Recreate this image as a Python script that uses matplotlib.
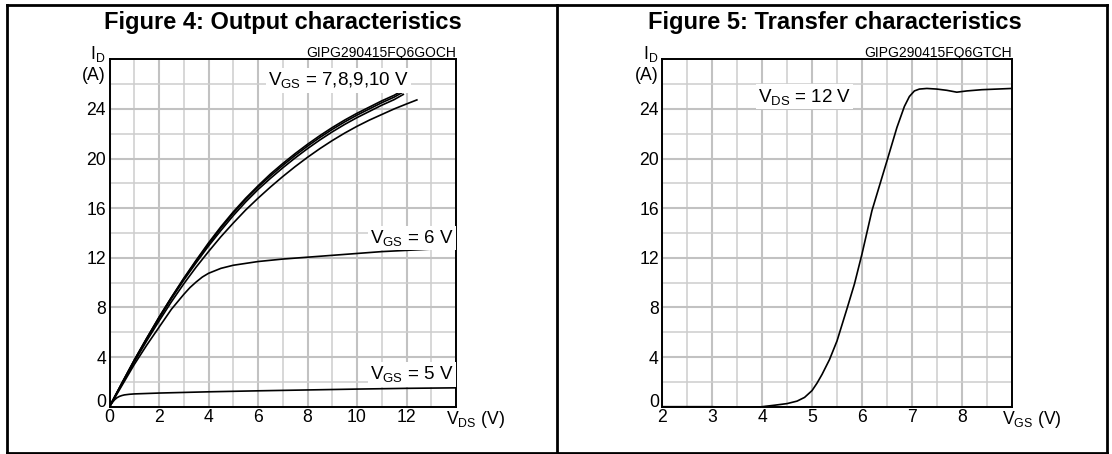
import matplotlib
matplotlib.use('Agg')
import matplotlib.pyplot as plt
from matplotlib.ticker import MultipleLocator, FixedLocator
from matplotlib.lines import Line2D

plt.rcParams['font.family'] = ['Liberation Sans', 'DejaVu Sans']
plt.rcParams['mathtext.fontset'] = 'custom'
plt.rcParams['mathtext.rm'] = 'Liberation Sans'
plt.rcParams['mathtext.it'] = 'Liberation Sans:italic'
plt.rcParams['mathtext.bf'] = 'Liberation Sans:bold'

# ---------------- data: Figure 4 (output characteristics) ----------------
vds_hi = [0, 0.25, 0.5, 1, 1.5, 2, 2.5, 3, 3.5, 4, 4.5, 5, 5.5, 6, 6.5, 7, 7.5,
          8, 8.5, 9, 9.5, 10, 10.5, 11, 11.5, 11.9]
id_vgs10 = [0, 0.95, 1.9, 3.75, 5.5, 7.2, 8.8, 10.35, 11.8, 13.2, 14.5, 15.7, 16.8,
            17.8, 18.75, 19.6, 20.4, 21.15, 21.85, 22.5, 23.1, 23.65, 24.15, 24.65,
            25.1, 25.55]
id_vgs9 = [0, 0.95, 1.9, 3.75, 5.5, 7.2, 8.8, 10.3, 11.75, 13.1, 14.4, 15.6, 16.7,
           17.7, 18.6, 19.45, 20.25, 21.0, 21.7, 22.35, 22.95, 23.5, 24.0, 24.5,
           24.95, 25.4]
id_vgs8 = [0, 0.95, 1.85, 3.7, 5.45, 7.1, 8.7, 10.2, 11.6, 12.95, 14.2, 15.4, 16.5,
           17.5, 18.4, 19.25, 20.05, 20.8, 21.5, 22.15, 22.75, 23.3, 23.8, 24.3,
           24.75, 25.2]
vds_7 = [0, 0.25, 0.5, 1, 1.5, 2, 2.5, 3, 3.5, 4, 4.5, 5, 5.5, 6, 6.5, 7, 7.5, 8,
         8.5, 9, 9.5, 10, 10.5, 11, 11.5, 12, 12.45]
id_vgs7 = [0, 0.9, 1.8, 3.6, 5.3, 6.9, 8.45, 9.9, 11.25, 12.5, 13.7, 14.8, 15.85,
           16.8, 17.7, 18.55, 19.35, 20.1, 20.8, 21.45, 22.05, 22.6, 23.1, 23.55,
           24.0, 24.4, 24.75]
vds_6 = [0, 0.25, 0.5, 1, 1.5, 2, 2.5, 3, 3.25, 3.5, 3.75, 4, 4.5, 5, 5.5, 6, 7, 8,
         9, 10, 11, 12, 13, 14]
id_vgs6 = [0, 0.85, 1.7, 3.4, 4.95, 6.4, 7.85, 9.05, 9.6, 10.05, 10.45, 10.75, 11.15,
           11.4, 11.55, 11.7, 11.9, 12.05, 12.2, 12.35, 12.5, 12.6, 12.7, 12.8]
vds_5 = [0, 0.1, 0.2, 0.3, 0.4, 0.5, 0.6, 0.8, 1, 2, 4, 6, 8, 10, 12, 14]
id_vgs5 = [0, 0.3, 0.55, 0.72, 0.83, 0.9, 0.95, 1.0, 1.03, 1.1, 1.2, 1.28, 1.35,
           1.42, 1.48, 1.52]

# ---------------- data: Figure 5 (transfer characteristics) ----------------
vgs_t = [2, 2.5, 3, 3.25, 3.5, 3.75, 4, 4.25, 4.5, 4.7, 4.85, 5, 5.1, 5.2, 5.35,
         5.5, 5.7, 5.85, 6, 6.2, 6.35, 6.5, 6.7, 6.85, 6.95, 7.05, 7.15, 7.3, 7.5,
         7.7, 7.9, 8.1, 8.4, 8.7, 9]
id_t = [0, 0, 0, -0.05, -0.1, -0.1, 0, 0.12, 0.25, 0.45, 0.75, 1.3, 1.9, 2.6, 3.8,
        5.3, 7.9, 9.9, 12.3, 15.8, 17.8, 19.8, 22.5, 24.2, 25.0, 25.45, 25.6,
        25.65, 25.6, 25.5, 25.35, 25.45, 25.55, 25.6, 25.65]

x_ticks_out = [0, 2, 4, 6, 8, 10, 12]
x_ticks_tr = [2, 3, 4, 5, 6, 7, 8]
y_ticks = [0, 4, 8, 12, 16, 20, 24]

W, H = 1112, 454
fig = plt.figure(figsize=(W / 100, H / 100), dpi=100)


def px_axes(x0, y0, x1, y1):
    return fig.add_axes([x0 / W, 1 - y1 / H, (x1 - x0) / W, (y1 - y0) / H])


# table frame
frame_kw = dict(transform=fig.transFigure, color='black', lw=2.0)
for (xa, ya, xb, yb) in [(6.5, 4.5, 1106.5, 4.5), (6.5, 452.5, 1106.5, 452.5),
                         (6.5, 4.5, 6.5, 452.5), (557, 4.5, 557, 452.5),
                         (1106.5, 4.5, 1106.5, 452.5)]:
    fig.add_artist(Line2D([xa / W, xb / W], [1 - ya / H, 1 - yb / H], **frame_kw))

TICK_FS = 12.7
ANN_FS = 13.5
GRID_C = '#c2c2c2'


def style(ax, xlim, xmaj, xmin, xlabel, code):
    ax.set_xlim(*xlim)
    ax.set_ylim(0, 28)
    ax.xaxis.set_major_locator(FixedLocator(xmaj))
    ax.xaxis.set_minor_locator(MultipleLocator(xmin))
    ax.yaxis.set_major_locator(FixedLocator(y_ticks))
    ax.yaxis.set_minor_locator(MultipleLocator(2))
    ax.grid(which='major', color=GRID_C, lw=1.5)
    ax.grid(which='minor', color='#cdcdcd', lw=1.1)
    ax.set_axisbelow(True)
    ax.tick_params(which='both', length=0, labelsize=TICK_FS)
    ax.tick_params(axis='x', pad=1.5)
    ax.tick_params(axis='y', pad=2.5)
    for s in ax.spines.values():
        s.set_linewidth(1.4)
    ax.yaxis.get_major_ticks()[0].label1.set_verticalalignment('baseline')
    ax.annotate(xlabel, xy=(0.972, 0), xycoords='axes fraction', xytext=(0, -1.5),
                textcoords='offset points', ha='left', va='top', fontsize=TICK_FS)
    ax.annotate(r'I$_{\mathrm{D}}$', xy=(0, 1), xycoords='axes fraction',
                xytext=(-3, 0), textcoords='offset points', ha='right',
                va='baseline', fontsize=TICK_FS)
    ax.annotate('(A)', xy=(0, 0.953), xycoords='axes fraction',
                xytext=(-2.5, 0), textcoords='offset points', ha='right',
                va='center', fontsize=TICK_FS)
    ax.annotate(code, xy=(1, 1), xycoords='axes fraction', xytext=(0, 1.5),
                textcoords='offset points', ha='right', va='baseline', fontsize=10)


box = dict(boxstyle='square,pad=0.12', fc='white', ec='none')

# ---------------- left panel ----------------
ax1 = px_axes(109.5, 59.3, 456, 406.7)
style(ax1, (0, 14), x_ticks_out, 1, r'V$_{\mathrm{DS}}$ (V)', 'GIPG290415FQ6GOCH')
line_kw = dict(color='black', lw=1.2, solid_capstyle='butt')
ax1.plot(vds_hi, id_vgs10, **line_kw)
ax1.plot(vds_hi, id_vgs9, **line_kw)
ax1.plot(vds_hi, id_vgs8, **line_kw)
ax1.plot(vds_7, id_vgs7, **line_kw)
ax1.plot(vds_6, id_vgs6, **line_kw)
ax1.plot(vds_5, id_vgs5, **line_kw)
ax1.text(9.25, 26.3, r'V$_{\mathrm{GS}}$ = 7,8,9,10 V', ha='center', va='center',
         fontsize=ANN_FS, bbox=box)
ax1.text(13.9, 13.6, r'V$_{\mathrm{GS}}$ = 6 V', ha='right', va='center',
         fontsize=ANN_FS, bbox=box)
ax1.text(13.9, 2.6, r'V$_{\mathrm{GS}}$ = 5 V', ha='right', va='center',
         fontsize=ANN_FS, bbox=box)

# ---------------- right panel ----------------
ax2 = px_axes(662.3, 59.3, 1011.7, 406.7)
style(ax2, (2, 9), x_ticks_tr, 0.5, r'V$_{\mathrm{GS}}$ (V)', 'GIPG290415FQ6GTCH')
ax2.plot(vgs_t, id_t, **line_kw)
ax2.text(4.85, 25.0, r'V$_{\mathrm{DS}}$ = 12 V', ha='center', va='center',
         fontsize=ANN_FS, bbox=box)

# titles
fig.text(283 / W, 1 - 28.5 / H, 'Figure 4: Output characteristics', ha='center',
         va='baseline', fontsize=17, fontweight='bold')
fig.text(835 / W, 1 - 28.5 / H, 'Figure 5: Transfer characteristics', ha='center',
         va='baseline', fontsize=17, fontweight='bold')

fig.savefig('out.png', dpi=100)
